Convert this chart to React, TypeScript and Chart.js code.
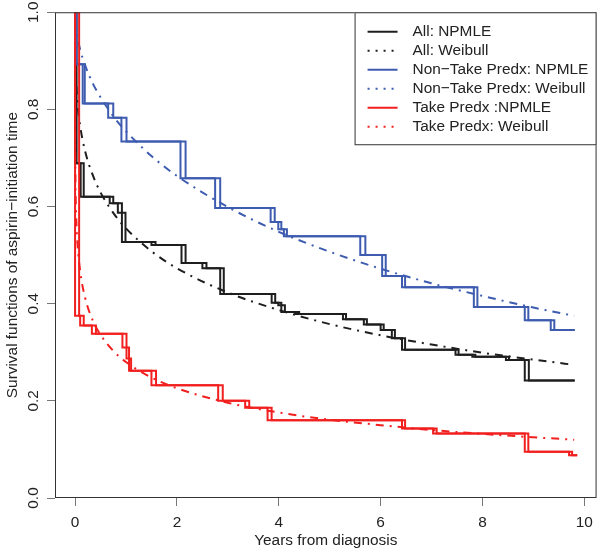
import React, { useEffect, useRef } from "react";
import { Chart, registerables } from "chart.js";

Chart.register(...registerables);

// Axis ticks
const xTicks = [0, 2, 4, 6, 8, 10];
const yTicks = [0, 0.2, 0.4, 0.6, 0.8, 1.0];

const legendLabels = [
  "All: NPMLE",
  "All: Weibull",
  "Non\u2212Take Predx: NPMLE",
  "Non\u2212Take Predx: Weibull",
  "Take Predx :NPMLE",
  "Take Predx: Weibull",
];
const groupColors = ["#1e1e1e", "#3d5cb0", "#f21f1f"];

// NPMLE (Turnbull) intervals: left end, right end, survival after the drop
const allLeft = [0, 0.11, 0.68, 0.84, 0.92, 1.5, 2.09, 2.5, 2.85, 3.86, 3.99, 4.05, 4.32, 5.26, 5.67, 6.0, 6.22, 6.42, 7.47, 7.8, 8.46, 8.83];
const allRight = [0.03, 0.17, 0.75, 0.92, 0.99, 1.58, 2.17, 2.58, 2.92, 3.93, 4.05, 4.12, 4.4, 5.32, 5.73, 6.06, 6.28, 6.48, 7.53, 7.86, 8.52, 8.91];
const allSurv = [0.689, 0.62, 0.607, 0.587, 0.527, 0.521, 0.484, 0.473, 0.42, 0.402, 0.397, 0.383, 0.379, 0.368, 0.357, 0.346, 0.329, 0.305, 0.295, 0.291, 0.284, 0.242];
const allEnd = 9.81;

const nonLeft = [0, 0.15, 0.65, 0.91, 2.07, 2.75, 3.84, 3.99, 4.1, 5.6, 6.03, 6.42, 7.83, 8.83, 9.34];
const nonRight = [0.03, 0.19, 0.75, 1.01, 2.17, 2.85, 3.92, 4.05, 4.16, 5.7, 6.1, 6.48, 7.9, 8.9, 9.41];
const nonSurv = [0.893, 0.812, 0.783, 0.734, 0.658, 0.597, 0.568, 0.553, 0.539, 0.5, 0.457, 0.434, 0.393, 0.366, 0.346];
const nonEnd = 9.81;

const takeLeft = [0, 0.1, 0.33, 0.93, 1.01, 1.06, 1.5, 2.81, 3.34, 3.78, 6.42, 7.03, 8.83, 9.7];
const takeRight = [0.08, 0.17, 0.41, 1.01, 1.06, 1.1, 1.59, 2.9, 3.42, 3.86, 6.48, 7.1, 8.9, 9.76];
const takeSurv = [0.375, 0.355, 0.338, 0.31, 0.287, 0.262, 0.232, 0.2, 0.186, 0.16, 0.143, 0.133, 0.095, 0.088];
const takeEnd = 9.86;

// Weibull fitted survival curves, read at these times
const weibullTimes = [0, 0.001, 0.003, 0.01, 0.03, 0.05, 0.1, 0.2, 0.35, 0.5, 0.75, 1, 1.5, 2, 3, 4, 5, 6, 7, 8, 9, 9.8];
const allWeibull = [1, 0.947, 0.923, 0.887, 0.839, 0.811, 0.766, 0.713, 0.664, 0.629, 0.587, 0.555, 0.508, 0.473, 0.423, 0.387, 0.358, 0.335, 0.316, 0.299, 0.285, 0.274];
const nonWeibull = [1, 0.994, 0.988, 0.978, 0.959, 0.947, 0.923, 0.89, 0.853, 0.825, 0.786, 0.755, 0.704, 0.663, 0.599, 0.548, 0.507, 0.472, 0.442, 0.416, 0.392, 0.375];
const takeWeibull = [1, 0.761, 0.705, 0.634, 0.558, 0.52, 0.467, 0.411, 0.365, 0.336, 0.303, 0.28, 0.248, 0.226, 0.196, 0.176, 0.161, 0.15, 0.14, 0.132, 0.125, 0.12];

const FONT = '"Liberation Sans", Arial, Helvetica, sans-serif';
const FONT_SIZE = 15.4;

function stepPoints(ends: number[], surv: number[], end: number) {
  const pts = [{ x: 0, y: 1 }];
  ends.forEach((t, i) => pts.push({ x: t, y: surv[i] }));
  pts.push({ x: end, y: surv[surv.length - 1] });
  return pts;
}

function curvePoints(times: number[], vals: number[]) {
  return times.map((t, i) => ({ x: t, y: vals[i] }));
}

const framePlugin = {
  id: "frameAndLegend",
  afterDraw(chart: any) {
    const { ctx, chartArea } = chart;
    ctx.save();
    ctx.strokeStyle = "#333";
    ctx.lineWidth = 1;
    ctx.setLineDash([]);
    ctx.strokeRect(
      chartArea.left + 0.5,
      chartArea.top + 0.5,
      chartArea.right - chartArea.left - 1,
      chartArea.bottom - chartArea.top - 1
    );
    // legend
    const w = 242;
    const h = 133;
    const x0 = chartArea.right - w;
    const y0 = chartArea.top;
    ctx.fillStyle = "#fff";
    ctx.fillRect(x0, y0, w, h);
    ctx.strokeStyle = "#333";
    ctx.strokeRect(x0 + 0.5, y0 + 0.5, w - 1, h - 1);
    ctx.font = `${FONT_SIZE}px ${FONT}`;
    ctx.textBaseline = "middle";
    ctx.textAlign = "left";
    legendLabels.forEach((lab, i) => {
      const y = y0 + 19.5 + i * 19;
      ctx.strokeStyle = groupColors[Math.floor(i / 2)];
      ctx.lineWidth = 2;
      ctx.setLineDash(i % 2 ? [2, 6] : []);
      ctx.beginPath();
      ctx.moveTo(x0 + 13, y);
      ctx.lineTo(x0 + 43, y);
      ctx.stroke();
      ctx.setLineDash([]);
      ctx.fillStyle = "#222";
      ctx.fillText(lab, x0 + 58, y + 0.5);
    });
    ctx.restore();
  },
};

export default function App() {
  const ref = useRef<HTMLCanvasElement | null>(null);

  useEffect(() => {
    if (!ref.current) return;
    const groups = [
      { L: allLeft, R: allRight, S: allSurv, end: allEnd, W: allWeibull },
      { L: nonLeft, R: nonRight, S: nonSurv, end: nonEnd, W: nonWeibull },
      { L: takeLeft, R: takeRight, S: takeSurv, end: takeEnd, W: takeWeibull },
    ];
    const datasets: any[] = [];
    let drawIdx = 0;
    groups.forEach((g, gi) => {
      const color = groupColors[gi];
      const common = {
        borderColor: color,
        backgroundColor: color,
        pointRadius: 0,
        fill: false,
        borderWidth: 2,
      };
      datasets.push({ ...common, data: stepPoints(g.R, g.S, g.end), stepped: "before", order: 100 - drawIdx++, borderJoinStyle: "miter" });
      datasets.push({ ...common, data: stepPoints(g.L, g.S, g.end), stepped: "before", order: 100 - drawIdx++, borderJoinStyle: "miter" });
      datasets.push({
        ...common,
        data: curvePoints(weibullTimes, g.W),
        cubicInterpolationMode: "monotone",
        borderDash: [2, 6, 8, 6],
        order: 100 - drawIdx++,
      });
    });

    const chart = new Chart(ref.current, {
      type: "line",
      data: { datasets },
      options: {
        animation: false,
        responsive: false,
        devicePixelRatio: 1,
        parsing: false as any,
        layout: { padding: { left: 0, right: 4, top: 10, bottom: 1 } },
        plugins: { legend: { display: false }, tooltip: { enabled: false } },
        scales: {
          x: {
            type: "linear",
            min: -0.394,
            max: 10.24,
            afterBuildTicks: (s: any) => {
              s.ticks = xTicks.map((v) => ({ value: v }));
            },
            afterFit: (s: any) => {
              s.height = 52;
            },
            grid: { drawOnChartArea: false, drawTicks: true, tickLength: 8, color: "#777" },
            border: { display: false },
            ticks: {
              color: "#222",
              font: { family: FONT, size: FONT_SIZE },
              padding: 8,
              maxRotation: 0,
              autoSkip: false,
              callback: (v: any) => String(v),
            },
            title: {
              display: true,
              text: "Years from diagnosis",
              color: "#222",
              font: { family: FONT, size: FONT_SIZE },
              padding: { top: 0, bottom: 0 },
            },
          },
          y: {
            type: "linear",
            min: 0,
            max: 1,
            afterBuildTicks: (s: any) => {
              s.ticks = yTicks.map((v) => ({ value: v }));
            },
            afterFit: (s: any) => {
              s.width = 55;
            },
            grid: { drawOnChartArea: false, drawTicks: true, tickLength: 8, color: "#777" },
            border: { display: false },
            ticks: {
              color: "#222",
              font: { family: FONT, size: FONT_SIZE },
              padding: 3,
              minRotation: 90,
              maxRotation: 90,
              crossAlign: "center",
              autoSkip: false,
              callback: (v: any) => Number(v).toFixed(1),
            },
            title: {
              display: true,
              text: "Survival functions of aspirin\u2212initiation time",
              color: "#222",
              font: { family: FONT, size: FONT_SIZE },
              padding: { top: 4, bottom: 0 },
            },
          },
        },
      },
      plugins: [framePlugin],
    });
    return () => chart.destroy();
  }, []);

  return (
    <div style={{ position: "absolute", left: 0, top: 0, width: 601, height: 551, background: "#fff" }}>
      <canvas ref={ref} width={601} height={551} />
    </div>
  );
}
